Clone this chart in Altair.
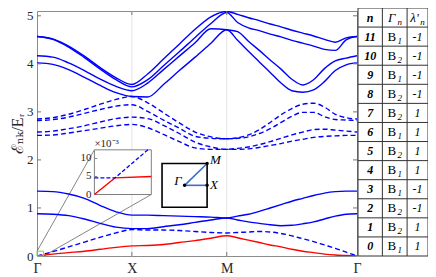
import altair as alt
import pandas as pd

# ---------------- data ----------------
# path coordinate (Γ -> X -> M -> Γ)
K = [0.0, 0.1667, 0.3333, 0.5, 0.6667, 0.8333, 1.0,
     1.1667, 1.3333, 1.5, 1.6667, 1.8333, 2.0,
     2.1144, 2.2288, 2.3433, 2.4577, 2.5721, 2.6865, 2.8009, 2.9153, 3.0298, 3.1442, 3.2586, 3.373]
K_TICKS = [0.0, 1.0, 2.0, 3.373]
K_LABELS = ["Γ", "X", "M", "Γ"]

E11 = [4.57, 4.52, 4.37, 4.16, 3.92, 3.71, 3.57, 3.79, 4.10, 4.41, 4.72, 4.98, 5.09,
       5.03, 4.96, 4.90, 4.83, 4.77, 4.70, 4.64, 4.58, 4.51, 4.45, 4.54, 4.57]
E10 = [4.57, 4.51, 4.35, 4.13, 3.89, 3.67, 3.52, 3.67, 3.96, 4.25, 4.55, 4.84, 5.07,
       4.86, 4.75, 4.69, 4.62, 4.56, 4.49, 4.43, 4.37, 4.30, 4.28, 4.50, 4.57]
E9 = [4.17, 4.14, 4.02, 3.86, 3.68, 3.53, 3.44, 3.60, 3.88, 4.16, 4.44, 4.73, 4.71,
      4.67, 4.47, 4.28, 4.08, 3.89, 3.68, 3.56, 3.67, 3.90, 4.06, 4.12, 4.17]
E8 = [4.02, 3.99, 3.88, 3.72, 3.55, 3.40, 3.32, 3.31, 3.57, 3.86, 4.14, 4.43, 4.71,
      4.49, 4.26, 4.04, 3.82, 3.60, 3.44, 3.41, 3.46, 3.63, 3.86, 3.98, 4.02]
E7 = [2.85, 2.88, 2.95, 3.05, 3.16, 3.26, 3.32, 3.19, 2.98, 2.77, 2.58, 2.48, 2.44,
      2.46, 2.52, 2.63, 2.78, 2.94, 3.07, 3.16, 3.18, 3.10, 2.95, 2.88, 2.85]
E6 = [2.82, 2.84, 2.89, 2.97, 3.05, 3.12, 3.15, 3.01, 2.83, 2.66, 2.49, 2.45, 2.44,
      2.45, 2.48, 2.55, 2.65, 2.78, 2.91, 2.99, 2.99, 2.90, 2.84, 2.83, 2.82]
E5 = [2.58, 2.60, 2.65, 2.71, 2.79, 2.86, 2.89, 2.86, 2.72, 2.55, 2.37, 2.27, 2.22,
      2.24, 2.27, 2.32, 2.38, 2.45, 2.52, 2.58, 2.63, 2.64, 2.62, 2.60, 2.58]
E4 = [2.51, 2.52, 2.56, 2.61, 2.66, 2.71, 2.74, 2.67, 2.53, 2.38, 2.25, 2.22, 2.22,
      2.22, 2.23, 2.26, 2.30, 2.34, 2.39, 2.43, 2.47, 2.49, 2.50, 2.51, 2.51]
E3 = [1.35, 1.34, 1.29, 1.20, 1.05, 0.92, 0.85, 0.85, 0.84, 0.83, 0.82, 0.81, 0.79,
      0.83, 0.87, 0.93, 1.00, 1.07, 1.14, 1.20, 1.26, 1.31, 1.34, 1.35, 1.35]
E2 = [0.88, 0.87, 0.84, 0.77, 0.68, 0.60, 0.57, 0.57, 0.61, 0.65, 0.70, 0.75, 0.79,
      0.75, 0.71, 0.68, 0.65, 0.63, 0.64, 0.67, 0.71, 0.77, 0.83, 0.87, 0.88]
E1 = [0.00, 0.09, 0.19, 0.29, 0.39, 0.48, 0.55, 0.54, 0.54, 0.53, 0.51, 0.49, 0.48,
      0.49, 0.50, 0.51, 0.50, 0.47, 0.42, 0.36, 0.30, 0.23, 0.16, 0.08, 0.00]
E0 = [0.00, 0.04, 0.07, 0.10, 0.14, 0.18, 0.21, 0.22, 0.24, 0.28, 0.32, 0.37, 0.42,
      0.38, 0.33, 0.28, 0.23, 0.19, 0.14, 0.10, 0.07, 0.04, 0.02, 0.01, 0.00]
BANDS = [E0, E1, E2, E3, E4, E5, E6, E7, E8, E9, E10, E11]

# table (rows from n = 11 down to n = 0)
TABLE_N = [11, 10, 9, 8, 7, 6, 5, 4, 3, 2, 1, 0]
TABLE_B = ["1", "2", "1", "2", "2", "1", "2", "1", "1", "2", "2", "1"]
TABLE_L = ["-1", "-1", "-1", "-1", "1", "1", "1", "1", "-1", "-1", "1", "1"]

# inset (zoom near Γ, ×10^-3)
IN_X_RED = [0.0, 0.36, 1.0]
IN_RED = [0.0, 4.6, 5.0]
IN_X_BLUE = [0.0, 0.36, 0.94]
IN_BLUE = [4.6, 4.6, 12.4]
IN_TICKS = [0, 5, 10]

# ---------------- layout ----------------
W, H = 320, 245
XMAX, YMAX = 3.373, 5.1
px_k = W / XMAX
px_e = H / YMAX
INSET_K = [0.605, 1.205]
INSET_E = [1.28, 2.21]
BZ_K = [1.318, 1.793]
BZ_E = [1.016, 1.926]
ZOOM_BOX = [0.0, 0.07, 0.0, 0.1]

FONT = "Liberation Serif"
BLUE = "#0000ff"
RED = "#ff0000"

lam = {n: l for n, l in zip(TABLE_N, TABLE_L)}
rows = []
for n, vals in enumerate(BANDS):
    style = "red" if n == 0 else ("dash" if lam[n] == "1" else "solid")
    for i, (k, e) in enumerate(zip(K, vals)):
        rows.append({"n": n, "i": i, "k": k, "E": e, "style": style})
df = pd.DataFrame(rows)

xs = alt.Scale(domain=[0, XMAX], nice=False, zero=False)
ys = alt.Scale(domain=[0, YMAX], nice=False, zero=False)
xaxis = alt.Axis(values=K_TICKS, labelExpr="datum.value == 1 ? 'X' : (datum.value == 2 ? 'M' : 'Γ')",
                 ticks=False, domain=False, grid=False, labelFlush=False, labelPadding=5,
                 labelFont=FONT, labelFontSize=14, labelColor="#262626")
yaxis = alt.Axis(values=[0, 1, 2, 3, 4, 5], format="d", ticks=False, domain=False, grid=False,
                 labelPadding=4, labelFont=FONT, labelFontSize=13, labelColor="#262626",
                 titleFont=FONT + ", DejaVu Serif", titleFontSize=16, titleFontWeight="normal",
                 titleColor="#262626", titlePadding=1)


def X(f):
    return alt.X(f + ":Q", scale=xs, axis=xaxis, title=None)


def Y(f):
    return alt.Y(f + ":Q", scale=ys, axis=yaxis, title="ℰₙₖ/Eᵣ")


grid = alt.Chart(pd.DataFrame({"k": K_TICKS[1:3]})).mark_rule(color="#e3e3e3", strokeWidth=1).encode(x=X("k"))
xt = pd.DataFrame({"k": K_TICKS[1:3]})
xtick_b = alt.Chart(xt).mark_rule(color="#777", strokeWidth=1).encode(x=X("k"), y=alt.value(H), y2=alt.value(H - 4))
xtick_t = alt.Chart(xt).mark_rule(color="#777", strokeWidth=1).encode(x=X("k"), y=alt.value(0), y2=alt.value(4))
yt = pd.DataFrame({"E": [1, 2, 3, 4, 5]})
ytick_l = alt.Chart(yt).mark_rule(color="#777", strokeWidth=1).encode(y=Y("E"), x=alt.value(0), x2=alt.value(4))
ytick_r = alt.Chart(yt).mark_rule(color="#777", strokeWidth=1).encode(y=Y("E"), x=alt.value(W), x2=alt.value(W - 4))

base = alt.Chart(df)
solid = base.transform_filter("datum.style == 'solid'").mark_line(
    color=BLUE, strokeWidth=1.4, interpolate="monotone", clip=True).encode(x=X("k"), y=Y("E"), detail="n:N", order="i:Q")
dash = base.transform_filter("datum.style == 'dash'").mark_line(
    color=BLUE, strokeWidth=1.4, strokeDash=[5, 3], interpolate="monotone", clip=True).encode(
    x=X("k"), y=Y("E"), detail="n:N", order="i:Q")
red = base.transform_filter("datum.style == 'red'").mark_line(
    color=RED, strokeWidth=1.4, interpolate="monotone", clip=True).encode(x=X("k"), y=Y("E"), detail="n:N", order="i:Q")

box = alt.Chart(pd.DataFrame({"k0": [ZOOM_BOX[0]], "k1": [ZOOM_BOX[1]], "e0": [ZOOM_BOX[2]], "e1": [ZOOM_BOX[3]]})).mark_rect(
    fill=None, stroke="#8fc46a", strokeWidth=1).encode(x=X("k0"), x2="k1", y=Y("e0"), y2="e1")
conn = alt.Chart(pd.DataFrame({
    "k0": [ZOOM_BOX[0], ZOOM_BOX[1]], "e0": [ZOOM_BOX[3], ZOOM_BOX[2]],
    "k1": [INSET_K[0], INSET_K[1]], "e1": [INSET_E[1], INSET_E[0]]})).mark_rule(
    color="#666", strokeWidth=0.8).encode(x=X("k0"), x2="k1", y=Y("e0"), y2="e1")

main = alt.layer(grid, conn, solid, dash, red, box, xtick_b, xtick_t, ytick_l, ytick_r)

# ---------------- inset ----------------
xs_in = alt.Scale(domain=[0, 1], range=[INSET_K[0] * px_k, INSET_K[1] * px_k], nice=False, zero=False)
ys_in = alt.Scale(domain=[0, 12.4], range=[H - INSET_E[0] * px_e, H - INSET_E[1] * px_e], nice=False, zero=False)


def XI(f):
    return alt.X(f + ":Q", scale=xs_in, axis=None)


def YI(f):
    return alt.Y(f + ":Q", scale=ys_in, axis=None)


in_frame = alt.Chart(pd.DataFrame({"x0": [0], "x1": [1], "y0": [0], "y1": [12.4]})).mark_rect(
    fill="white", stroke="#808080", strokeWidth=1).encode(x=XI("x0"), x2="x1", y=YI("y0"), y2="y1")
in_red = alt.Chart(pd.DataFrame({"x": IN_X_RED, "y": IN_RED, "i": [0, 1, 2]})).mark_line(
    color=RED, strokeWidth=1.3).encode(x=XI("x"), y=YI("y"), order="i:Q")
in_blue = alt.Chart(pd.DataFrame({"x": IN_X_BLUE, "y": IN_BLUE, "i": [0, 1, 2]})).mark_line(
    color=BLUE, strokeWidth=1.3, strokeDash=[4, 2]).encode(x=XI("x"), y=YI("y"), order="i:Q")
tick_df = pd.DataFrame({"x": [0] * 3, "x2": [0.05] * 3, "y": IN_TICKS, "t": [str(v) for v in IN_TICKS]})
in_lab = alt.Chart(tick_df).mark_text(align="right", baseline="middle", dx=-3, font=FONT, fontSize=11,
                                      color="#262626").encode(x=XI("x"), y=YI("y"), text="t:N")
in_tk = alt.Chart(tick_df[tick_df.y > 0]).mark_rule(color="#808080").encode(x=XI("x"), x2="x2", y=YI("y"))
in_exp = alt.Chart(pd.DataFrame({"x": [0], "y": [12.4], "t": ["×10⁻³"]})).mark_text(
    align="left", baseline="bottom", dy=-1, font=FONT, fontSize=11, color="#262626").encode(
    x=XI("x"), y=YI("y"), text="t:N")
inset = alt.layer(in_frame, in_red, in_blue, in_tk, in_lab, in_exp)

# ---------------- Brillouin zone sketch ----------------
xs_bz = alt.Scale(domain=[-1, 1], range=[BZ_K[0] * px_k, BZ_K[1] * px_k], nice=False, zero=False)
ys_bz = alt.Scale(domain=[-1, 1], range=[H - BZ_E[0] * px_e, H - BZ_E[1] * px_e], nice=False, zero=False)


def XB(f):
    return alt.X(f + ":Q", scale=xs_bz, axis=None)


def YB(f):
    return alt.Y(f + ":Q", scale=ys_bz, axis=None)


bz_frame = alt.Chart(pd.DataFrame({"x0": [-1], "x1": [1], "y0": [-1], "y1": [1]})).mark_rect(
    fill="white", stroke="black", strokeWidth=1.6).encode(x=XB("x0"), x2="x1", y=YB("y0"), y2="y1")
bz_lines = alt.Chart(pd.DataFrame({"x0": [0, 0], "y0": [0, 0], "x1": [1, 1], "y1": [1, 0]})).mark_rule(
    color="#3b6fc4", strokeWidth=1.6).encode(x=XB("x0"), x2="x1", y=YB("y0"), y2="y1")
pts = pd.DataFrame({"x": [0, 1, 1], "y": [0, 0, 1], "t": ["Γ", "X", "M"]})
bz_pts = alt.Chart(pts).mark_circle(size=12, color="black", opacity=1).encode(x=XB("x"), y=YB("y"))
bz_g = alt.Chart(pts.iloc[[0]]).mark_text(align="right", baseline="middle", dx=-3, dy=-4, font=FONT,
                                          fontSize=13, fontStyle="italic").encode(x=XB("x"), y=YB("y"), text="t:N")
bz_x = alt.Chart(pts.iloc[[1]]).mark_text(align="left", baseline="middle", dx=3, dy=0, font=FONT,
                                          fontSize=13, fontStyle="italic").encode(x=XB("x"), y=YB("y"), text="t:N")
bz_m = alt.Chart(pts.iloc[[2]]).mark_text(align="left", baseline="middle", dx=3, dy=-3, font=FONT,
                                          fontSize=13, fontStyle="italic").encode(x=XB("x"), y=YB("y"), text="t:N")
bz = alt.layer(bz_frame, bz_lines, bz_pts, bz_g, bz_x, bz_m)

# ---------------- table ----------------
COL_EDGES = [0, 25.3, 51.0, 72.7]
NROW = 13
xs_t = alt.Scale(domain=[0, COL_EDGES[-1]], range=[W + 1, W + 71], nice=False, zero=False)
ys_t = alt.Scale(domain=[0, NROW], range=[-3, H], nice=False, zero=False)


def XT(f):
    return alt.X(f + ":Q", scale=xs_t, axis=None)


def YT(f):
    return alt.Y(f + ":Q", scale=ys_t, axis=None)


hl = alt.Chart(pd.DataFrame({"x0": [0] * (NROW + 1), "x1": [COL_EDGES[-1]] * (NROW + 1), "y": list(range(NROW + 1))})).mark_rule(
    color="#333", strokeWidth=1).encode(x=XT("x0"), x2="x1", y=YT("y"))
vl = alt.Chart(pd.DataFrame({"x": COL_EDGES, "y0": [0] * 4, "y1": [NROW] * 4})).mark_rule(
    color="#333", strokeWidth=1).encode(x=XT("x"), y=YT("y0"), y2="y1")

cx = [(COL_EDGES[j] + COL_EDGES[j + 1]) / 2 for j in range(3)]
c1 = pd.DataFrame({"x": [cx[0]] * NROW, "y": [r + 0.5 for r in range(NROW)], "t": ["n"] + [str(v) for v in TABLE_N]})
c2 = pd.DataFrame({"x": [cx[1]] * 12, "y": [r + 1.5 for r in range(12)], "t": ["B"] * 12})
c2s = pd.DataFrame({"x": [cx[1]] * 12 + [cx[1], cx[2]], "y": [r + 1.5 for r in range(12)] + [0.5, 0.5],
                    "t": TABLE_B + ["n", "n"]})
hd = pd.DataFrame({"x": [cx[1], cx[2]], "y": [0.5, 0.5], "t": ["Γ", "λ'"]})
c3 = pd.DataFrame({"x": [cx[2]] * 12, "y": [r + 1.5 for r in range(12)], "t": TABLE_L})

t1 = alt.Chart(c1).mark_text(font=FONT, fontSize=12, fontStyle="italic", fontWeight="bold", color="black",
                             baseline="middle").encode(x=XT("x"), y=YT("y"), text="t:N")
t2 = alt.Chart(c2).mark_text(font=FONT, fontSize=13, color="black", dx=-3,
                             baseline="middle").encode(x=XT("x"), y=YT("y"), text="t:N")
t2s = alt.Chart(c2s).mark_text(font=FONT, fontSize=9, fontStyle="italic", color="black", dx=5, dy=4,
                               baseline="middle").encode(x=XT("x"), y=YT("y"), text="t:N")
th = alt.Chart(hd).mark_text(font=FONT, fontSize=13, fontStyle="italic", color="black", dx=-3,
                             baseline="middle").encode(x=XT("x"), y=YT("y"), text="t:N")
t3 = alt.Chart(c3).mark_text(font=FONT, fontSize=12, fontStyle="italic", color="black",
                             baseline="middle").encode(x=XT("x"), y=YT("y"), text="t:N")
table = alt.layer(hl, vl, t1, t2, t2s, th, t3)

chart = alt.layer(main, inset, bz, table).resolve_scale(x="independent", y="independent").properties(
    width=W, height=H,
    autosize=alt.AutoSizeParams(type="none"),
    padding={"left": 29, "top": 3, "right": 71, "bottom": 20},
).configure_view(stroke="#8c8c8c", strokeWidth=1)

chart.save("out.html", embed_options={"renderer": "svg", "actions": False})
